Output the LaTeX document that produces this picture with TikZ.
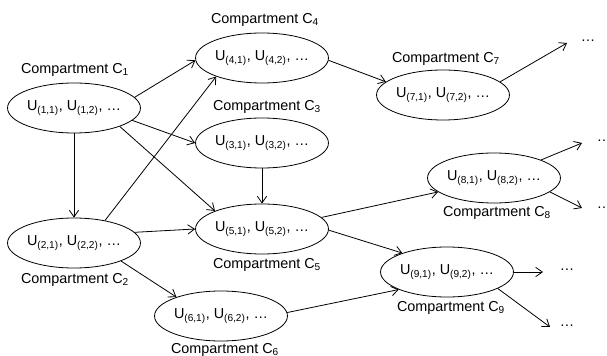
\documentclass[tikz,border=0pt]{standalone}
\usepackage{fontspec}
\setmainfont{Liberation Sans}
\usetikzlibrary{shapes.geometric,arrows.meta}
\tikzset{
  comp/.style={ellipse, draw, line width=0.6pt, minimum width=95pt, minimum height=37.5pt, inner sep=0pt, font=\fontsize{10.8}{12}\selectfont},
  lab/.style={inner sep=0pt, font=\fontsize{10.8}{12}\selectfont},
  arr/.style={-{Straight Barb[length=5pt,width=7pt]}, line width=0.6pt}
}
\begin{document}
\begin{tikzpicture}[x=0.75pt,y=-0.75pt]
\useasboundingbox (0,0) rectangle (607,356);
% compartments
\node[comp] (C1) at (74,108) {U\textsubscript{(1,1)}, U\textsubscript{(1,2)}, …};
\node[comp] (C2) at (74,243) {U\textsubscript{(2,1)}, U\textsubscript{(2,2)}, …};
\node[comp] (C3) at (262,143) {U\textsubscript{(3,1)}, U\textsubscript{(3,2)}, …};
\node[comp] (C4) at (262,58) {U\textsubscript{(4,1)}, U\textsubscript{(4,2)}, …};
\node[comp] (C5) at (262,229) {U\textsubscript{(5,1)}, U\textsubscript{(5,2)}, …};
\node[comp] (C6) at (221,316) {U\textsubscript{(6,1)}, U\textsubscript{(6,2)}, …};
\node[comp] (C7) at (443,95) {U\textsubscript{(7,1)}, U\textsubscript{(7,2)}, …};
\node[comp] (C8) at (494,178) {U\textsubscript{(8,1)}, U\textsubscript{(8,2)}, …};
\node[comp] (C9) at (447,272) {U\textsubscript{(9,1)}, U\textsubscript{(9,2)}, …};
% labels
\node[lab] (L1) at (75,70) {Compartment C\textsubscript{1}};
\node[lab] (L2) at (75,280) {Compartment C\textsubscript{2}};
\node[lab] (L3) at (267,107) {Compartment C\textsubscript{3}};
\node[lab] (L4) at (265,20) {Compartment C\textsubscript{4}};
\node[lab] (L5) at (267,265) {Compartment C\textsubscript{5}};
\node[lab] (L6) at (225,350) {Compartment C\textsubscript{6}};
\node[lab] (L7) at (446,59) {Compartment C\textsubscript{7}};
\node[lab] (L8) at (497,213) {Compartment C\textsubscript{8}};
\node[lab] (L9) at (451,308) {Compartment C\textsubscript{9}};
% continuation dots
\node[lab] (D7) at (588,41) {…};
\node[lab] (D8a) at (604,141) {…};
\node[lab] (D8b) at (604,208) {…};
\node[lab] (D9a) at (567,270) {…};
\node[lab] (D9b) at (567,326) {…};
\coordinate (E7) at (567,43);
\coordinate (E8a) at (582,143);
\coordinate (E8b) at (582,208);
\coordinate (E9a) at (543,272);
\coordinate (E9b) at (550,327);
% connectors
\draw[arr] (C1.10) -- (C4.182);
\draw[arr] (C1.-12) -- (C3.180);
\draw[arr] (C1.-22) -- (C5.159);
\draw[arr] (C1.south) -- (C2.north);
\draw[arr] (C2.36) -- (C4.202);
\draw[arr] (C2.10) -- (C5.180);
\draw[arr] (C2.-21) -- (C6.157);
\draw[arr] (C3.south) -- (C5.north);
\draw[arr] (C4.-2) -- (C7.167);
\draw[arr] (C5.11) -- (C8.194);
\draw[arr] (C5.-1) -- (C9.157);
\draw[arr] (C6.3) -- (C9.200);
\draw[arr] (C7.13) -- (E7);
\draw[arr] (C8.21) -- (E8a);
\draw[arr] (C8.-14) -- (E8b);
\draw[arr] (C9.east) -- (E9a);
\draw[arr] (C9.-18) -- (E9b);
\end{tikzpicture}
\end{document}
